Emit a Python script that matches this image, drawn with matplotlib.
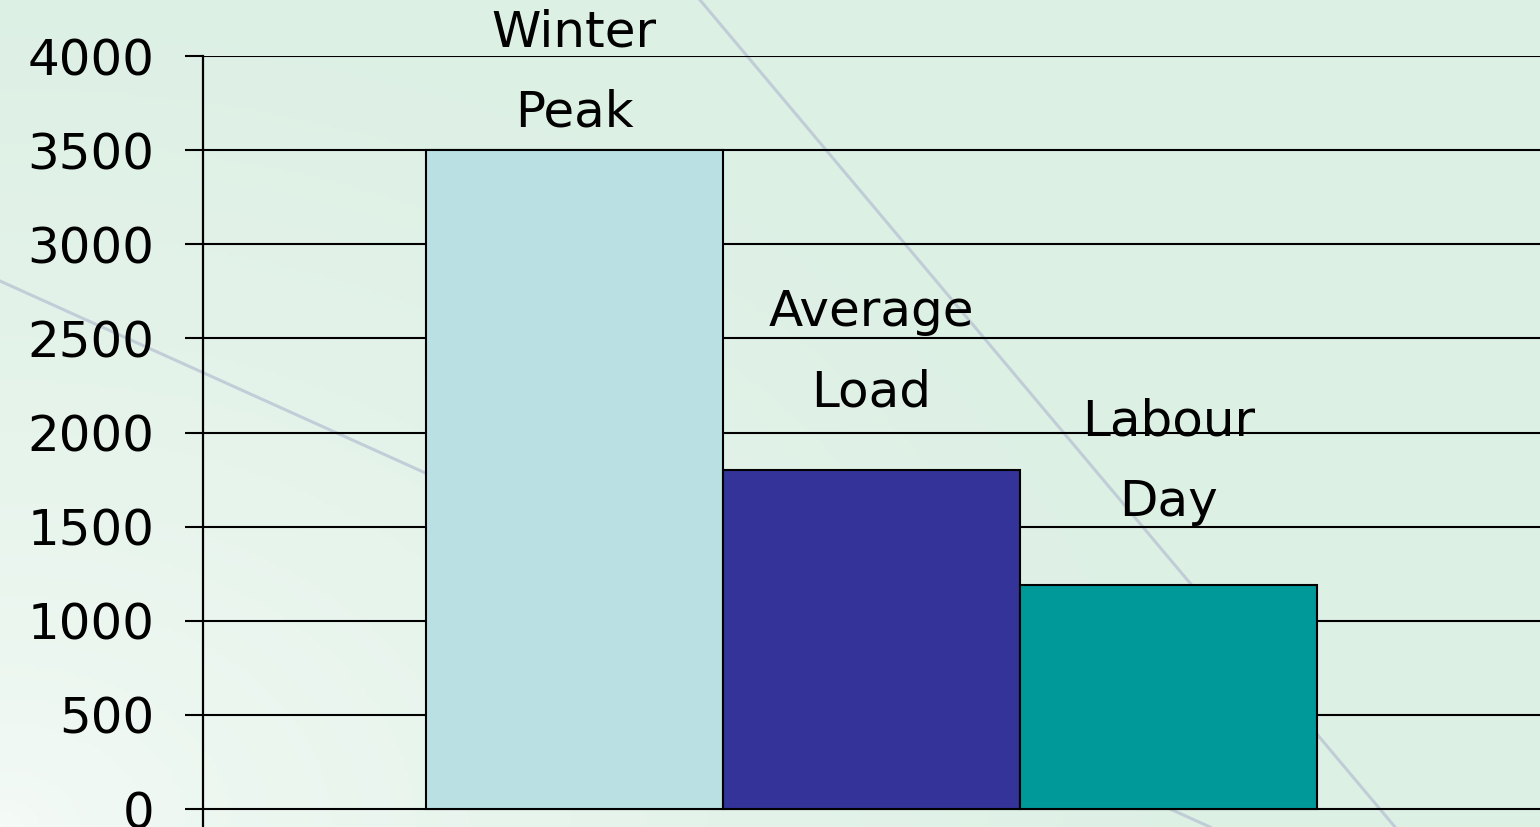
import numpy as np
import matplotlib
matplotlib.use("Agg")
import matplotlib.pyplot as plt

# Datos del grafico
categorias = ["Winter\nPeak", "Average\nLoad", "Labour\nDay"]
valores = [3500, 1800, 1190]
colores = ["#bbe0e3", "#333399", "#009999"]
ticks_y = [0, 500, 1000, 1500, 2000, 2500, 3000, 3500, 4000]

W, H = 1540, 827
fig = plt.figure(figsize=(W / 100, H / 100), dpi=100)

# Fondo degradado (blanco abajo a la izquierda, verde claro arriba a la derecha)
bg = fig.add_axes([0, 0, 1, 1], zorder=-1)
xx, yy = np.meshgrid(np.linspace(0, 1, 400), np.linspace(0, 1, 220))
d = np.sqrt(xx ** 2 + (1 - yy) ** 2 * 0.6)
t = np.clip(d / 0.75, 0, 1) ** 0.6
c0 = np.array([0.965, 0.985, 0.972])
c1 = np.array([0.870, 0.942, 0.898])
img = c0[None, None, :] * (1 - t[..., None]) + c1[None, None, :] * t[..., None]
bg.imshow(img, extent=[0, W, 0, H], origin="upper", aspect="auto")
# lineas decorativas
bg.plot([700, 1395], [H - 0, H - 827], color="#bcc7d4", lw=2.2, alpha=0.85)
bg.plot([0, 1210], [H - 281, H - 827], color="#bcc7d4", lw=2.2, alpha=0.85)
bg.set_xlim(0, W)
bg.set_ylim(0, H)
bg.axis("off")

# Ejes principales
ax = fig.add_axes([203 / W, 0, 1 - 203 / W, (H - 56) / H])
ax.patch.set_alpha(0)
x = np.arange(len(valores))
ax.bar(x, valores, width=1.0, color=colores, edgecolor="black", linewidth=1.5, zorder=3)

ax.set_xlim(-1.25, 3.25)
ax.set_ylim(-95.6, 4000)
ax.set_yticks(ticks_y)
ax.set_yticklabels([str(v) for v in ticks_y])
ax.set_xticks([])
ax.yaxis.grid(True, color="black", linewidth=1.5, zorder=1)
ax.set_axisbelow(True)
for s in ["top", "right", "bottom"]:
    ax.spines[s].set_visible(False)
ax.spines["left"].set_linewidth(1.6)
ax.tick_params(axis="y", direction="out", length=13, width=1.5, pad=22,
               labelsize=36, colors="black")

# Etiquetas encima de cada barra
desfase = [17, 46, 50]
for xi, v, lab, off in zip(x, valores, categorias, desfase):
    ax.annotate(lab, (xi, v), xytext=(0, off), textcoords="offset points",
                ha="center", va="baseline", fontsize=36, linespacing=1.84,
                zorder=4, annotation_clip=False)

fig.savefig("out.png", dpi=100)
